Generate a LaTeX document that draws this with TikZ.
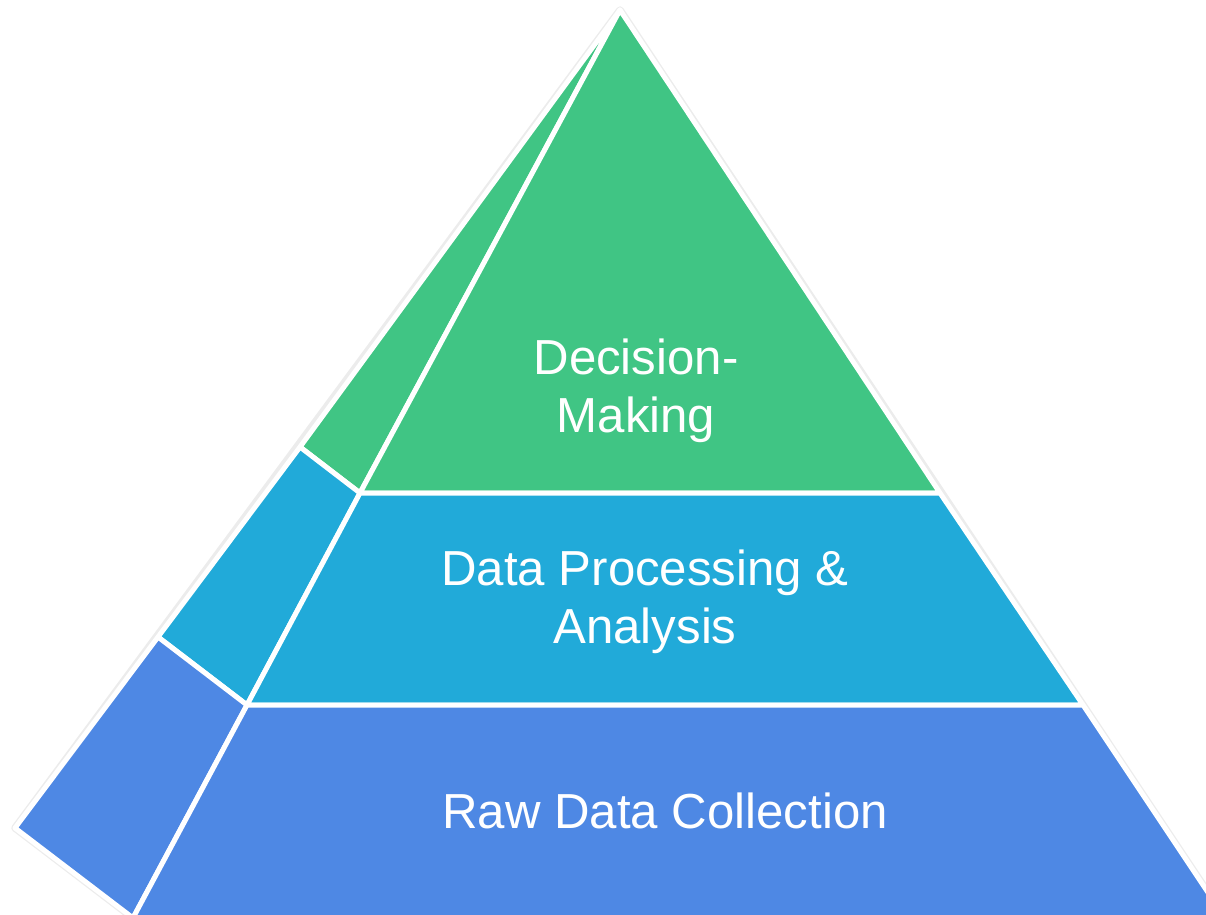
\documentclass[tikz,border=0pt]{standalone}
\usepackage{fontspec}
\setmainfont{Liberation Sans}
\usetikzlibrary{positioning}
\definecolor{decisiongreen}{RGB}{64,197,132}
\definecolor{processcyan}{RGB}{33,170,217}
\definecolor{rawblue}{RGB}{78,136,228}
\tikzset{every node/.style={font=\fontsize{28}{33}\selectfont},
  face/.style={draw=white, line width=0.1cm, line join=round},
  label/.style={text=white, align=center}}

\begin{document}
\begin{tikzpicture}[x=0.02cm, y=-0.02cm]
  \useasboundingbox (0,0) rectangle (1206,915);
  \clip (0,0) rectangle (1206,915);
  % corners of the pyramid (pixel grid)
  \coordinate (apex) at (620,10);
  \coordinate (l1) at (300,447);
  \coordinate (l2) at (158,637);
  \coordinate (l3) at (15,828);
  \coordinate (f1) at (360,493);
  \coordinate (f2) at (247,705);
  \coordinate (f3) at (133,918);
  \coordinate (r1) at (940,493);
  \coordinate (r2) at (1083,705);
  \coordinate (r3) at (1225,918);
  % faint outline
  \draw[gray!15, line width=0.15cm, line join=round] (apex) -- (l3) -- (f3) -- (r3) -- cycle;
  % left face
  \draw[face, fill=decisiongreen] (apex) -- (l1) -- (f1) -- cycle;
  \draw[face, fill=processcyan] (l1) -- (l2) -- (f2) -- (f1) -- cycle;
  \draw[face, fill=rawblue] (l2) -- (l3) -- (f3) -- (f2) -- cycle;
  % front face
  \draw[face, fill=decisiongreen] (apex) -- (f1) -- (r1) -- cycle;
  \draw[face, fill=processcyan] (f1) -- (f2) -- (r2) -- (r1) -- cycle;
  \draw[face, fill=rawblue] (f2) -- (f3) -- (r3) -- (r2) -- cycle;
  % labels
  \node[label] (decision) at (636,391) {Decision-\\Making};
  \node[label] (process) at (645,602) {Data Processing \&\\Analysis};
  \node[label] (raw) at (665,811) {Raw Data Collection};
\end{tikzpicture}
\end{document}
